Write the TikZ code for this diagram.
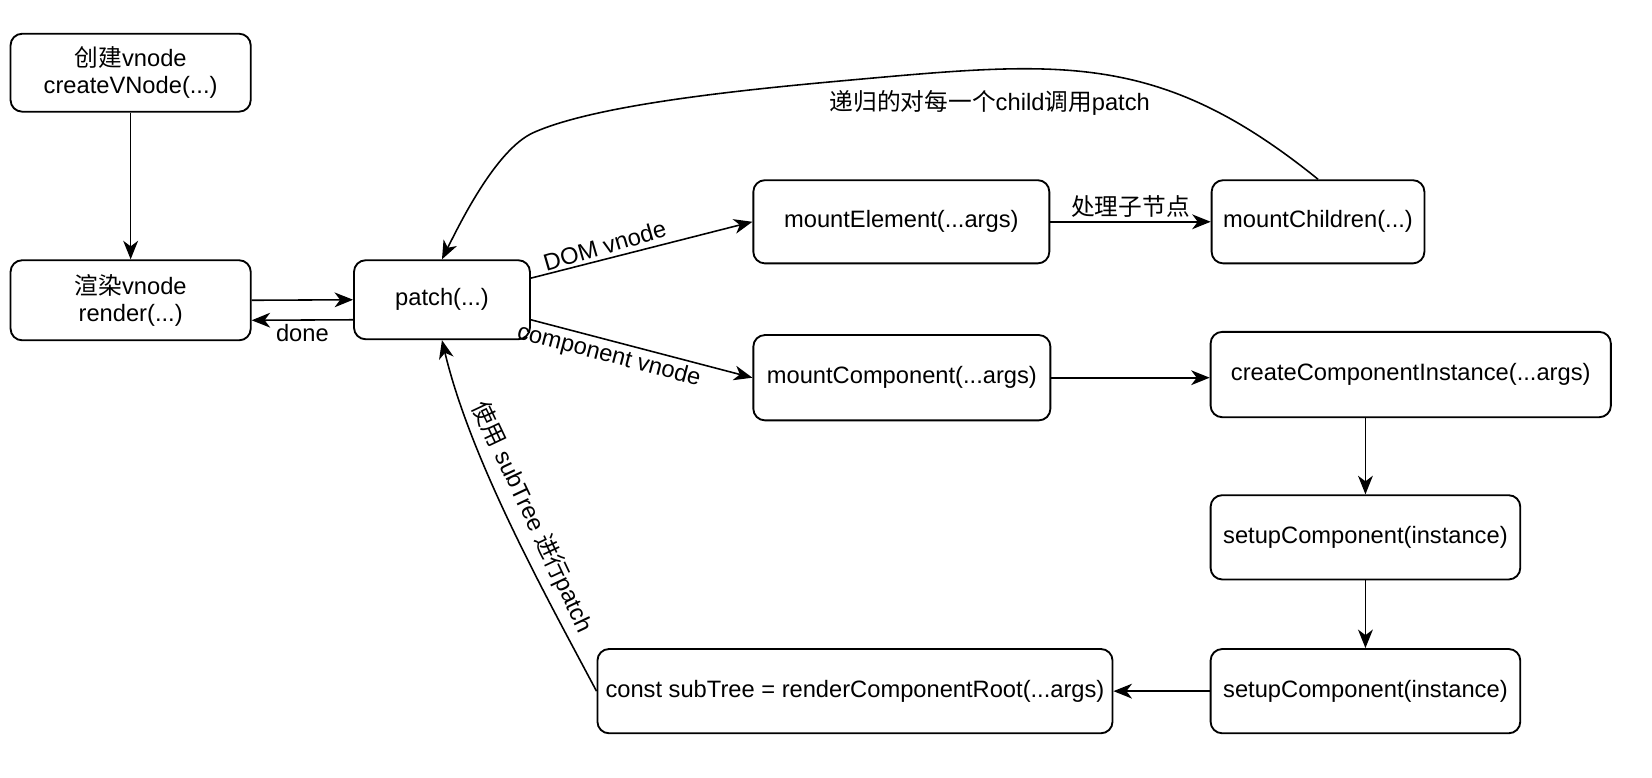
\documentclass[tikz,border=0pt]{standalone}
\usepackage{fontspec}
\setmainfont{Liberation Sans}
\newfontfamily\cjk{Noto Sans CJK SC}
\newcommand{\zhtxt}[1]{{\cjk #1}}
\usetikzlibrary{arrows.meta}
\usetikzlibrary{positioning}
\tikzstyle{func_node} = [
    rectangle,
    rounded corners=0.22cm,
    draw=black,
    line width=1pt,
    align=center,
    inner sep=1pt, % long labels nearly touch the border
    font=\fontsize{12.8}{14.7}\selectfont
]
\tikzstyle{flow_arrow} = [
    draw=black,
    line width=0.85pt,
    -{Stealth[length=10pt, width=8pt, inset=3pt]}
]
\tikzstyle{edge_label} = [
    font=\fontsize{12.8}{14.7}\selectfont,
    inner sep=2pt
]

\begin{document}
\begin{tikzpicture}[x=0.02cm, y=-0.02cm]
\useasboundingbox[fill=white] (0,0) rectangle (1568,738);

% left column
\node [func_node, minimum width=4.56cm, minimum height=1.48cm] (create_node) at (124,69) {\zhtxt{创建}vnode\\createVNode(...)};
\node [func_node, minimum width=4.56cm, minimum height=1.52cm] (render_node) at (124,285) {\zhtxt{渲染}vnode\\render(...)};
\node [func_node, minimum width=3.34cm, minimum height=1.5cm] (patch_node) at (419.5,284.5) {patch(...)};

% mount functions
\node [func_node, minimum width=5.62cm, minimum height=1.58cm] (element_node) at (855.5,210.5) {mountElement(...args)};
\node [func_node, minimum width=4.04cm, minimum height=1.58cm] (children_node) at (1251,210.5) {mountChildren(...)};
\node [func_node, minimum width=5.64cm, minimum height=1.62cm] (component_node) at (856,358.5) {mountComponent(...args)};
\node [func_node, minimum width=7.6cm, minimum height=1.62cm] (instance_node) at (1339,355.5) {createComponentInstance(...args)};
\node [func_node, minimum width=5.88cm, minimum height=1.6cm] (setup_node) at (1296,510) {setupComponent(instance)};
\node [func_node, minimum width=5.88cm, minimum height=1.6cm] (setup_again_node) at (1296,656) {setupComponent(instance)};
\node [func_node, minimum width=9.78cm, minimum height=1.6cm] (subtree_node) at (811.5,656) {const subTree = renderComponentRoot(...args)};

\draw [flow_arrow] (create_node) -- (render_node);
\draw [flow_arrow] (render_node.east) -- (patch_node.west);
\draw [flow_arrow] ([yshift=-0.38cm]patch_node.west) -- ([yshift=-0.38cm]render_node.east)
    node [edge_label, midway, below] {done};

\draw [flow_arrow] ([yshift=0.41cm]patch_node.east) -- (element_node.west)
    node [edge_label, pos=0.35, sloped, above, rotate=2] {DOM vnode};
\draw [flow_arrow] ([yshift=-0.38cm]patch_node.east) -- (component_node.west)
    node [edge_label, pos=0.37, sloped, below] {component vnode};
\draw [flow_arrow] (element_node) -- (children_node)
    node [edge_label, midway, above] {\zhtxt{处理子节点}};

% recursion back to patch
\draw [flow_arrow] (children_node.north) .. controls (1100,48) and (1007,58) .. (807,76)
    node [edge_label, pos=0.75, below=9pt] {\zhtxt{递归的对每一个}child\zhtxt{调用}patch}
    .. controls (707,85) and (566,99) .. (506,126)
    .. controls (471,142) and (437,211) .. (patch_node.north);

\draw [flow_arrow] (component_node.east) -- (component_node.east -| instance_node.west);
\draw [flow_arrow] (instance_node.south -| setup_node.north) -- (setup_node.north);
\draw [flow_arrow] (setup_node) -- (setup_again_node);
\draw [flow_arrow] (setup_again_node) -- (subtree_node);

\draw [flow_arrow] (subtree_node.west) .. controls (520,569) and (447,438) .. (patch_node.south)
    node [edge_label, pos=0.5, sloped, above=3pt] {\zhtxt{使用} subTree \zhtxt{进行}patch};
\end{tikzpicture}
\end{document}
